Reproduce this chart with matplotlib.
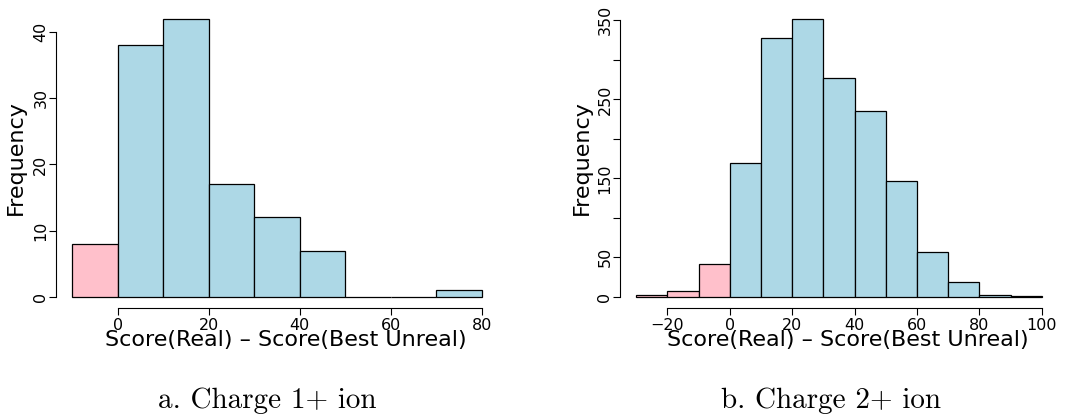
import matplotlib.pyplot as plt
import numpy as np

# histogram counts, bins of width 10
edges_1 = np.arange(-10, 81, 10)
counts_1 = [8, 38, 42, 17, 12, 7, 0, 0, 1]
xticks_1 = [0, 20, 40, 60, 80]
yticks_1 = [0, 10, 20, 30, 40]
ylabels_1 = ['0', '10', '20', '30', '40']

edges_2 = np.arange(-30, 101, 10)
counts_2 = [3, 7, 41, 170, 328, 352, 277, 235, 147, 57, 19, 3, 1]
xticks_2 = [-20, 0, 20, 40, 60, 80, 100]
yticks_2 = [0, 50, 100, 150, 200, 250, 300, 350]
ylabels_2 = ['0', '50', '', '150', '', '250', '', '350']

xlab = 'Score(Real) – Score(Best Unreal)'
captions = ['a. Charge 1+ ion', 'b. Charge 2+ ion']

plt.rcParams['font.family'] = 'DejaVu Sans'


def r_hist(ax, edges, counts, xticks, yticks, ylabels, ylab_x):
    left = edges[:-1]
    colors = ['pink' if e < 0 else 'lightblue' for e in left]
    ax.bar(left, counts, width=10, align='edge', color=colors,
           edgecolor='black', linewidth=0.9)

    # R-style 4% padding around the data range
    lo, hi = edges[0], edges[-1]
    pad = 0.04 * (hi - lo)
    ax.set_xlim(lo - pad, hi + pad)
    top = max(counts)
    ax.set_ylim(-0.04 * top, 1.04 * top)

    for s in ['top', 'right']:
        ax.spines[s].set_visible(False)
    ax.spines['left'].set_bounds(yticks[0], yticks[-1])
    ax.spines['bottom'].set_bounds(xticks[0], xticks[-1])
    for s in ['left', 'bottom']:
        ax.spines[s].set_linewidth(0.8)

    ax.set_xticks(xticks)
    ax.set_yticks(yticks)
    ax.set_yticklabels(ylabels)
    ax.tick_params(length=5, width=0.8, labelsize=11.5, pad=2)
    ax.tick_params(axis='y', labelrotation=90, pad=0.5)
    for lbl in ax.get_yticklabels():
        lbl.set_va('center')

    ax.set_xlabel(xlab, fontsize=16)
    ax.xaxis.set_label_coords(0.52, -0.072)
    ax.set_ylabel('Frequency', fontsize=16)
    ax.yaxis.set_label_coords(ylab_x, 0.5)


fig = plt.figure(figsize=(10.83, 4.15), dpi=100)
ax1 = fig.add_axes([0.0517, 0.2578, 0.4081, 0.7239])
ax2 = fig.add_axes([0.5725, 0.2578, 0.4044, 0.7239])

r_hist(ax1, edges_1, counts_1, xticks_1, yticks_1, ylabels_1, -0.068)
r_hist(ax2, edges_2, counts_2, xticks_2, yticks_2, ylabels_2, -0.064)

fig.text(0.2465, 0.0169, captions[0], family='cmr10', size=21,
         ha='center', va='baseline')
fig.text(0.767, 0.0169, captions[1], family='cmr10', size=21,
         ha='center', va='baseline')

fig.savefig('out.png', dpi=100)
